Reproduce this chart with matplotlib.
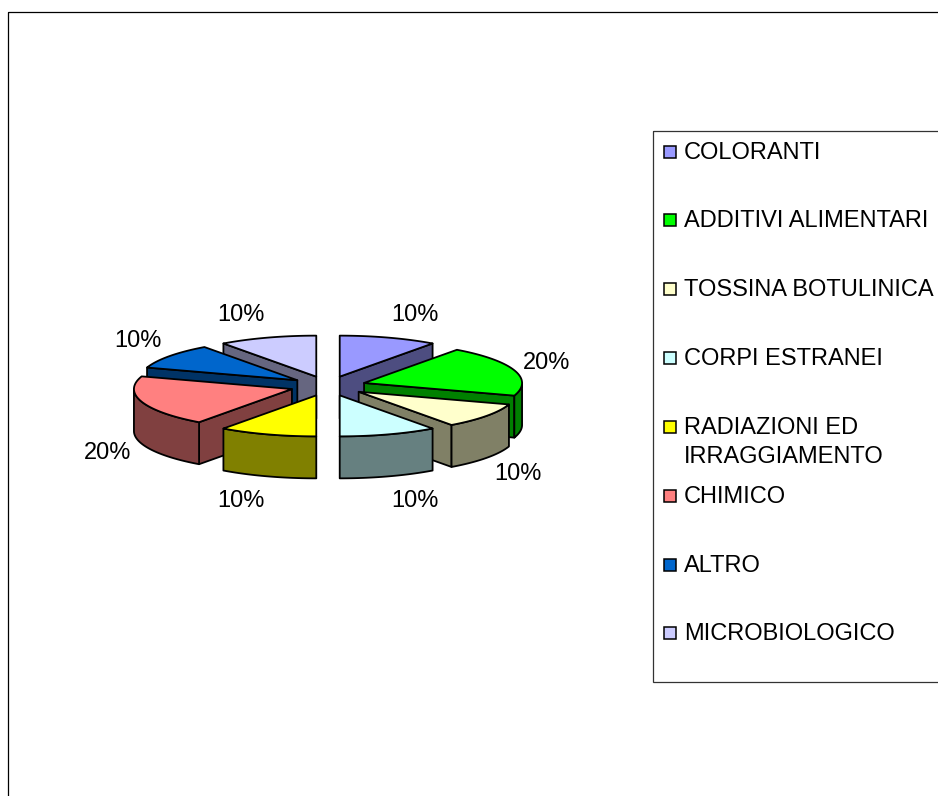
import numpy as np
import matplotlib
matplotlib.use("Agg")
import matplotlib.pyplot as plt
from matplotlib.patches import Polygon, Rectangle

plt.rcParams['font.family'] = ['Liberation Sans', 'DejaVu Sans']

# Data
categories = ["COLORANTI", "ADDITIVI ALIMENTARI", "TOSSINA BOTULINICA", "CORPI ESTRANEI",
              "RADIAZIONI ED\nIRRAGGIAMENTO", "CHIMICO", "ALTRO", "MICROBIOLOGICO"]
values = [10, 20, 10, 10, 10, 20, 10, 10]
colors = ["#9999FF", "#00FF00", "#FFFFCC", "#CCFFFF", "#FFFF00", "#FF8080", "#0066CC", "#CCCCFF"]

# Layout, in pixels of the picture
CX, CY = 328, 386
RX, RY = 158, 41
DEPTH = 42
EXPLODE = 0.24
LW = 1.3
label_pos = [(415, 315), (547, 363), (518, 474), (415, 501),
             (241, 501), (108, 453), (138, 341), (241, 315)]
legend_y = [151, 219, 288, 357, 426, 495, 564, 632]
FS = 17.0


def darker(c):
    r, g, b = matplotlib.colors.to_rgb(c)
    return (r * 0.5, g * 0.5, b * 0.5)


def rim(a0, a1, ox, oy):
    # angles run clockwise from 12 o'clock
    t = np.radians(np.linspace(a0, a1, 60))
    return np.c_[ox + RX * np.sin(t), oy - RY * np.cos(t)]


def draw_slice(ax, a0, a1, color):
    mid = np.radians((a0 + a1) / 2)
    ox = CX + EXPLODE * RX * np.sin(mid)
    oy = CY - EXPLODE * RY * np.cos(mid)
    apex = np.array([ox, oy])
    down = np.array([0, DEPTH])
    side = darker(color)
    edge = dict(facecolor=side, edgecolor="black", linewidth=LW, joinstyle="round")

    # cut faces, only those turned to the viewer
    faces = []
    if np.sin(np.radians(a0)) < -1e-6:
        faces.append(a0)
    if np.sin(np.radians(a1)) > 1e-6:
        faces.append(a1)
    for a in faces:
        p = rim(a, a, ox, oy)[0]
        ax.add_patch(Polygon([apex, p, p + down, apex + down], **edge))
    # outer wall, only the part which faces the viewer
    w0, w1 = max(a0, 90), min(a1, 270)
    if w1 > w0:
        arc = rim(w0, w1, ox, oy)
        ax.add_patch(Polygon(np.vstack([arc, arc[::-1] + down]), **edge))
    # top
    ax.add_patch(Polygon(np.vstack([apex, rim(a0, a1, ox, oy)]), facecolor=color,
                         edgecolor="black", linewidth=LW, joinstyle="round"))


def main():
    fig = plt.figure(figsize=(9.38, 7.96), dpi=100)
    ax = fig.add_axes([0, 0, 1, 1])
    ax.set_xlim(0, 938)
    ax.set_ylim(796, 0)
    ax.axis("off")

    # Chart frame and legend box, both run off the picture
    ax.add_patch(Rectangle((7.5, 11.5), 1000, 900, fill=False, edgecolor="black", linewidth=0.9))
    ax.add_patch(Rectangle((652.5, 130.5), 400, 551, fill=False, edgecolor="#333333", linewidth=0.9))

    shares = 360 * np.array(values) / sum(values)
    ends = np.cumsum(shares)
    starts = ends - shares

    # Painter's order: back slices first
    mids = (starts + ends) / 2
    order = np.argsort(-np.cos(np.radians(mids)), kind="stable")
    for i in order:
        draw_slice(ax, starts[i], ends[i], colors[i])

    for i, (x, y) in enumerate(label_pos):
        ax.text(x, y, "%d%%" % round(100 * values[i] / sum(values)), fontsize=FS,
                ha="center", va="center", color="black")

    # Legend
    for name, color, y in zip(categories, colors, legend_y):
        ax.add_patch(Rectangle((663.5, y - 5), 12, 12, facecolor=color,
                               edgecolor="black", linewidth=1.1))
        ax.text(684, y - 9, name, fontsize=FS, ha="left", va="top",
                linespacing=1.42, color="black")

    fig.savefig("out.png", dpi=100)


if __name__ == "__main__":
    main()
